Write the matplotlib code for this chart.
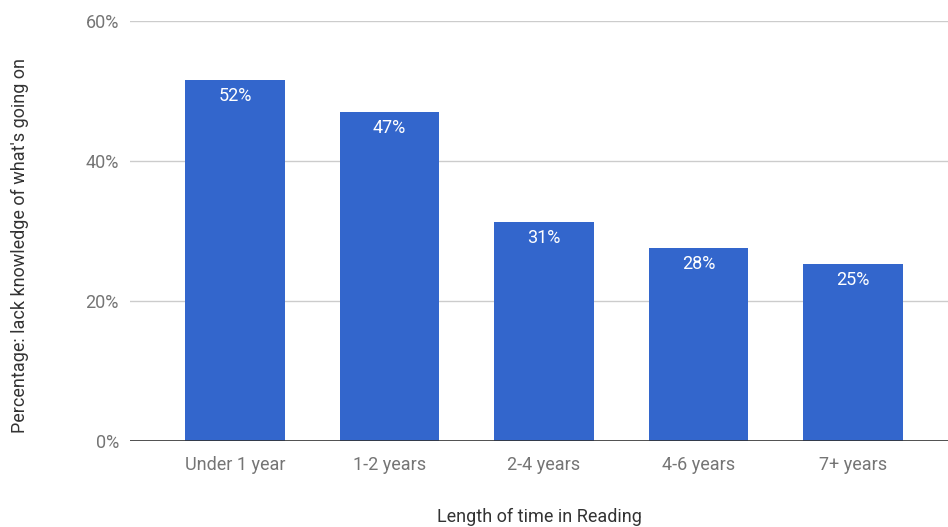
import matplotlib
matplotlib.use("Agg")
import matplotlib.pyplot as plt
from matplotlib.ticker import FuncFormatter

categories = ["Under 1 year", "1-2 years", "2-4 years", "4-6 years", "7+ years"]
values = [51.6, 47.0, 31.3, 27.6, 25.3]
yticks = [0, 20, 40, 60]

plt.rcParams["font.family"] = ["Roboto", "DejaVu Sans"]

fig = plt.figure(figsize=(9.48, 5.27), dpi=100)
ax = fig.add_axes([0.1371, 0.1632, 0.8629, 0.7970])

x = range(len(categories))
ax.bar(x, values, width=0.647, color="#3366cc", zorder=3)

for xi, v in zip(x, values):
    ax.annotate(f"{v:.0f}%", xy=(xi, v), xytext=(0, -11.5), textcoords="offset points",
                ha="center", va="center", color="white", fontsize=13, zorder=4)

ax.set_xlim(-0.68, 4.615)
ax.set_ylim(0, 60)
ax.set_yticks(yticks)
ax.yaxis.set_major_formatter(FuncFormatter(lambda v, p: f"{v:.0f}%"))
ax.set_xticks(list(x))
ax.set_xticklabels(categories)

ax.grid(axis="y", color="#cccccc", linewidth=1, zorder=0)
ax.axhline(0, color="#333333", linewidth=1.2, zorder=5)
for s in ax.spines.values():
    s.set_visible(False)
ax.tick_params(axis="both", length=0, labelsize=13, labelcolor="#757575")
ax.tick_params(axis="y", pad=8)
ax.tick_params(axis="x", pad=10.5)

ax.set_xlabel("Length of time in Reading", fontsize=13, color="#333333")
ax.xaxis.set_label_coords(0.5, -0.16)
ax.set_ylabel("Percentage: lack knowledge of what's going on", fontsize=13, color="#333333")
ax.yaxis.set_label_coords(-0.123, 0.465)

fig.savefig("out.png", dpi=100)
